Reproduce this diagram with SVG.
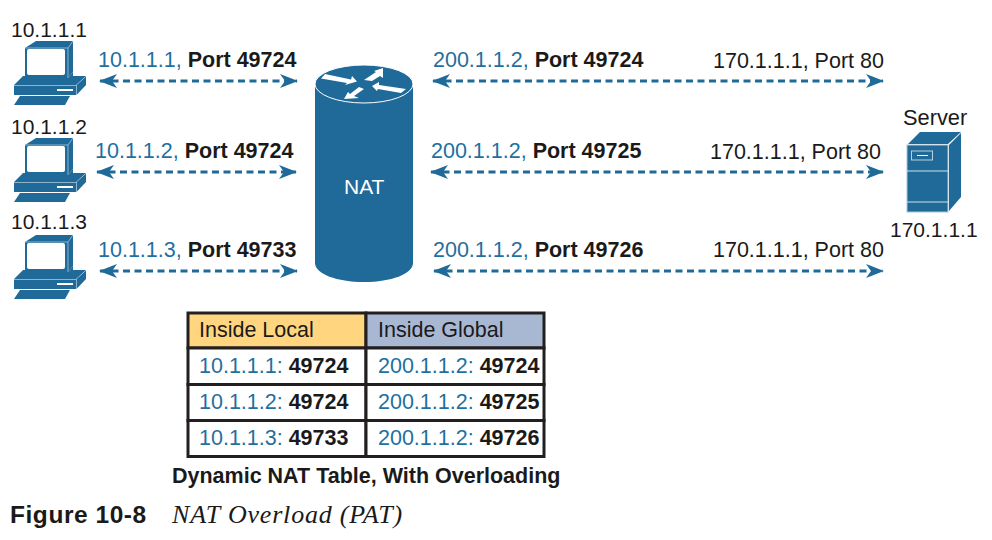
<svg xmlns="http://www.w3.org/2000/svg" width="992" height="540" viewBox="0 0 992 540">
<style>
text{font-family:"Liberation Sans",Arial,sans-serif;font-size:21.5px;fill:#1a1a1a}
.b{font-weight:bold}
.c{fill:#1f6f9f}
.s{font-size:21px}
.ln{stroke:#1f6a99;stroke-width:3;stroke-dasharray:7 4.500;fill:none;marker-start:url(#a);marker-end:url(#a)}
.blue{fill:#1f6a99}
.w{fill:#fff}
.cell{fill:#fff;stroke:#231f20;stroke-width:3}
</style>
<defs>
<marker id="a" viewBox="0 0 18 14" refX="17" refY="7" markerUnits="userSpaceOnUse" markerWidth="18" markerHeight="14" orient="auto-start-reverse"><path d="M0 0L18 7L0 14L5 7Z" fill="#1f6a99"/></marker>
<g id="pc">
<path class="blue" d="M25 48L36 41H73V72L68 78H25Z"/>
<path d="M29 49H63Q65 49 65 51V73Q65 75 63 75H29Q27 75 27 73V51Q27 49 29 49Z" fill="#fff"/>
<path d="M25 48H68L73 41M68 48V78" fill="none" stroke="#a9c6d8" stroke-width=".8"/>
<path class="blue" d="M23 76H25V78H68L73 72V76H86L76 85H14Z"/>
<path class="blue" d="M14 85.500H76V95H14Z"/>
<path class="blue" d="M76.500 85L86 76.500V85L76.500 95Z"/>
<path class="w" d="M57 89H73V91H57Z"/>
<path class="blue" d="M20 96H70L65 105H14Z"/>
</g>
</defs>
<g id="connectors">
<path class="ln" d="M100 81H297"/>
<path class="ln" d="M97 172H296"/>
<path class="ln" d="M100 271H297"/>
<path class="ln" d="M433 81H883"/>
<path class="ln" d="M431 172H883"/>
<path class="ln" d="M434 271H883"/>
</g>
<g id="pc1"><use href="#pc"/><text class="s" x="11" y="37">10.1.1.1</text></g>
<g id="pc2"><use href="#pc" y="97"/><text class="s" x="11" y="134">10.1.1.2</text></g>
<g id="pc3"><use href="#pc" y="194"/><text class="s" x="11" y="229">10.1.1.3</text></g>
<g id="nat">
<path class="blue" d="M315 84V263C315 274 337 282 364 282S413 274 413 263V84Z"/>
<ellipse cx="364" cy="84" rx="49" ry="19" class="blue" stroke="#fff" stroke-width="1"/>
<path class="w" d="M325 74L351 79.500L352 76L357 81.500L345 85L347 83L321 78.500Z"/>
<path class="w" d="M383 68V78L380 76L372 81L364 80L376 72L374 71Z"/>
<path class="w" d="M372 86L379 82V85L406 89L401 93L378 89L377 91Z"/>
<path class="w" d="M344 99L348 92L350 94L359 87L364 89L354 96L359 98Z"/>
<text class="s" x="344" y="194" style="fill:#fff">NAT</text>
</g>
<g id="server">
<path class="blue" d="M908 144L920 132H961L948 144Z"/>
<path class="blue" d="M949 145L961 133V197L949 211Z"/>
<rect x="907" y="145" width="41" height="67" class="blue" stroke="#a9c6d8" stroke-width="1"/>
<path d="M907 171H948M907 202H948" stroke="#cfe0ea" stroke-width="1"/>
<rect x="911.500" y="151" width="21" height="9" fill="none" stroke="#b9d2e0" stroke-width="1"/>
<path d="M917 155.500H928" stroke="#fff" stroke-width="1"/>
<text x="903" y="125" style="font-size:21.800px">Server</text>
<text class="s" x="890" y="237">170.1.1.1</text>
</g>
<g id="labels">
<text x="98" y="67"><tspan class="c">10.1.1.1, </tspan><tspan class="b">Port 49724</tspan></text>
<text x="95" y="158"><tspan class="c">10.1.1.2, </tspan><tspan class="b">Port 49724</tspan></text>
<text x="98" y="257"><tspan class="c">10.1.1.3, </tspan><tspan class="b">Port 49733</tspan></text>
<text x="433" y="67"><tspan class="c">200.1.1.2, </tspan><tspan class="b">Port 49724</tspan></text>
<text x="431" y="158"><tspan class="c">200.1.1.2, </tspan><tspan class="b">Port 49725</tspan></text>
<text x="433" y="257"><tspan class="c">200.1.1.2, </tspan><tspan class="b">Port 49726</tspan></text>
<text x="713" y="68">170.1.1.1, Port 80</text>
<text x="710" y="159">170.1.1.1, Port 80</text>
<text x="713" y="257">170.1.1.1, Port 80</text>
</g>
<g id="table">
<rect x="188" y="313" width="178" height="35" fill="#ffd67f" stroke="#231f20" stroke-width="3"/>
<rect x="366" y="313" width="178" height="35" fill="#a9b8d2" stroke="#231f20" stroke-width="3"/>
<rect class="cell" x="188" y="348" width="178" height="36.500"/>
<rect class="cell" x="366" y="348" width="178" height="36.500"/>
<rect class="cell" x="188" y="384.500" width="178" height="36"/>
<rect class="cell" x="366" y="384.500" width="178" height="36"/>
<rect class="cell" x="188" y="420.500" width="178" height="36"/>
<rect class="cell" x="366" y="420.500" width="178" height="36"/>
<text x="199" y="337">Inside Local</text>
<text x="378" y="337">Inside Global</text>
<text x="199" y="373"><tspan class="c">10.1.1.1: </tspan><tspan class="b">49724</tspan></text>
<text x="378" y="373"><tspan class="c">200.1.1.2: </tspan><tspan class="b">49724</tspan></text>
<text x="199" y="409"><tspan class="c">10.1.1.2: </tspan><tspan class="b">49724</tspan></text>
<text x="378" y="409"><tspan class="c">200.1.1.2: </tspan><tspan class="b">49725</tspan></text>
<text x="199" y="445"><tspan class="c">10.1.1.3: </tspan><tspan class="b">49733</tspan></text>
<text x="378" y="445"><tspan class="c">200.1.1.2: </tspan><tspan class="b">49726</tspan></text>
</g>
<text class="b" x="172" y="483">Dynamic NAT Table, With Overloading</text>
<text class="b" x="10" y="523" style="font-size:24.500px;letter-spacing:.55px">Figure 10-8</text>
<text x="172" y="523" style="font-family:'Liberation Serif',serif;font-style:italic;font-size:26px;letter-spacing:.8px">NAT Overload (PAT)</text>
</svg>
